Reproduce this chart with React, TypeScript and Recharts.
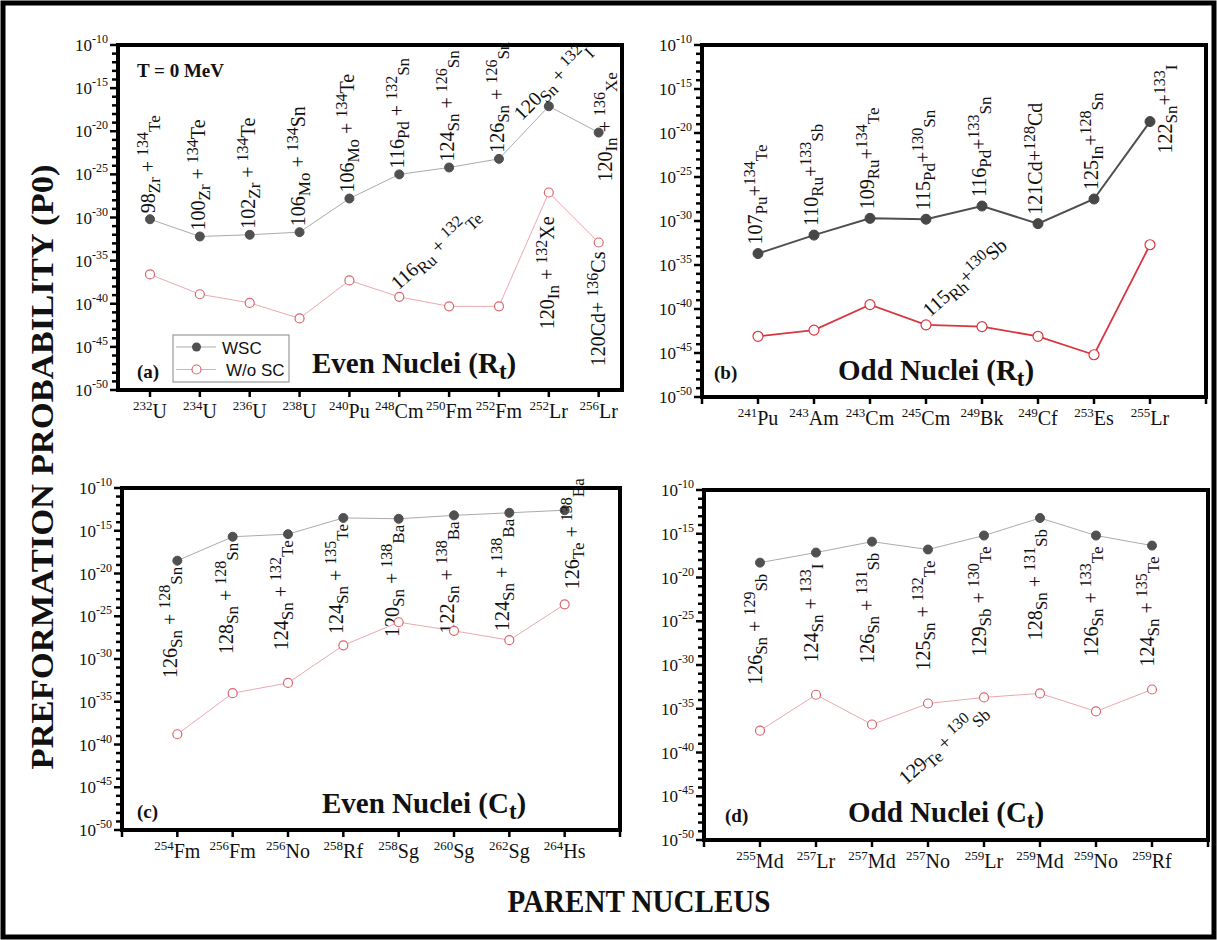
import React from 'react';
import { LineChart, Line, XAxis, YAxis, ReferenceArea } from 'recharts';

const SERIF = '"Liberation Serif", "Times New Roman", serif';
const SANS = '"Liberation Sans", Arial, sans-serif';

// parent nuclei on the x axes (mass number + symbol)
const parentsA = ['232U', '234U', '236U', '238U', '240Pu', '248Cm', '250Fm', '252Fm', '252Lr', '256Lr'];
const parentsB = ['241Pu', '243Am', '243Cm', '245Cm', '249Bk', '249Cf', '253Es', '255Lr'];
const parentsC = ['254Fm', '256Fm', '256No', '258Rf', '258Sg', '260Sg', '262Sg', '264Hs'];
const parentsD = ['255Md', '257Lr', '257Md', '257No', '259Lr', '259Md', '259No', '259Rf'];

// log10 of the preformation probability, with (WSC) and without shell correction
const wscA = [-30.2, -32.2, -32.0, -31.7, -27.8, -25.0, -24.2, -23.2, -17.1, -20.15];
const woA = [-36.6, -38.9, -39.9, -41.7, -37.3, -39.2, -40.3, -40.3, -27.1, -32.9];
const wscB = [-33.7, -31.6, -29.7, -29.8, -28.3, -30.3, -27.5, -18.7];
const woB = [-43.1, -42.4, -39.5, -41.8, -42.0, -43.1, -45.2, -32.7];
const wscC = [-18.5, -15.7, -15.4, -13.5, -13.6, -13.2, -12.9, -12.6];
const woC = [-38.8, -34.0, -32.8, -28.4, -25.7, -26.7, -27.8, -23.6];
const wscD = [-18.3, -17.15, -15.9, -16.8, -15.2, -13.2, -15.2, -16.35];
const woD = [-37.5, -33.4, -36.8, -34.4, -33.7, -33.25, -35.3, -32.8];

// most probable fragment pairs ("_" lowered, "^" raised)
const pairsWscA = ['98_Zr + ^134_Te', '100_Zr + ^134Te', '102_Zr + ^134Te', '106_Mo + ^134Sn', '106_Mo + ^134Te',
  '116_Pd + ^132_Sn', '124_Sn + ^126_Sn', '126_Sn + ^126_Sn', '120_Sn + ^132_I', '120_In + ^136_Xe'];
const pairsWoA = ['', '', '', '', '', '116_Ru + ^132_Te', '', '', '120_In + ^132Xe', '120Cd+ ^136Cs'];
const pairsWscB = ['107_Pu+^134_Te', '110_Ru+^133_Sb', '109_Ru+^134_Te', '115_Pd+^130_Sn', '116_Pd+^133_Sn',
  '121Cd+^128Cd', '125_In+^128_Sn', '122_Sn+^133_I'];
const pairsWoB = ['', '', '', '115_Rh+^130Sb', '', '', '', ''];
const pairsWscC = ['126_Sn + ^128_Sn', '128_Sn + ^128_Sn', '124_Sn + ^132_Te', '124_Sn + ^135_Te', '120_Sn + ^138_Ba',
  '122_Sn + ^138_Ba', '124_Sn + ^138_Ba', '126_Te + ^138_Ba'];
const pairsWoC = ['', '', '', '', '', '', '', ''];
const pairsWscD = ['126_Sn + ^129_Sb', '124_Sn + ^133_I', '126_Sn + ^131_Sb', '125_Sn + ^132_Te', '129_Sb + ^130_Te',
  '128_Sn + ^131_Sb', '126_Sn + ^133_Te', '124_Sn + ^135_Te'];
const pairsWoD = ['', '', '', '129_Te + ^130_Sb', '', '', '', ''];

const yTicks = Array.from({ length: 41 }, (_, k) => -50 + k);
const xTicks = [0, 1, 2, 3, 4, 5, 6, 7, 8, 9];

type Place = { rot: number; anchor: 'start' | 'end'; dx: number; dy: number } | null;
const up = (dx: number, dy: number): Place => ({ rot: -90, anchor: 'start', dx, dy });
const down = (dx: number, dy: number): Place => ({ rot: -90, anchor: 'end', dx, dy });
const diag = (dx: number, dy: number, rot: number): Place => ({ rot, anchor: 'start', dx, dy });

const placeWscA: Place[] = [up(5, -6), up(5, -6), up(5, -6), up(5, -6), up(5, -6), up(5, -6), up(5, -6), up(5, -6),
  diag(-27, 15, -45), up(13, 49)];
const placeWoA: Place[] = [null, null, null, null, null, diag(-1, -6, -42), null, null, down(5, 24), down(6, 9)];
const placeWscB: Place[] = [up(4, -9), up(4, -9), up(4, -9), up(4, -9), up(4, -9), up(4, -9), up(4, -9), up(22, 32)];
const placeWoB: Place[] = [null, null, null, diag(4, -7, -42), null, null, null, null];
const placeWscC: Place[] = [down(0, 6), down(0, 6), down(0, 6), down(0, 6), down(0, 6), down(0, 6), down(0, 6), up(14, 79)];
const placeWoC: Place[] = [null, null, null, null, null, null, null, null];
const placeWscD: Place[] = [down(2, 11), down(2, 11), down(2, 11), down(2, 11), down(2, 11), down(2, 11), down(2, 11), down(2, 11)];
const placeWoD: Place[] = [null, null, null, diag(-22, 82, -41.5), null, null, null, null];

const Formula = ({ text, x, y, rot, anchor }: { text: string; x: number; y: number; rot: number; anchor: string }) => {
  const parts = text.match(/\^\d+|_[A-Za-z]+|[^\^_]+/g) || [];
  let shift = 0;
  const spans = parts.map((p, k) => {
    let size = 20;
    let target = 0;
    let s = p;
    if (p[0] === '^') { size = 16; target = -7; s = p.slice(1); }
    else if (p[0] === '_') { size = 17; target = 5; s = p.slice(1); }
    const dy = target - shift;
    shift = target;
    return <tspan key={k} fontSize={size} dy={dy}>{s}</tspan>;
  });
  return (
    <text transform={`translate(${x},${y}) rotate(${rot})`} textAnchor={anchor} fontFamily={SERIF} fill="#111" style={{ whiteSpace: 'pre' }}>
      {spans}
    </text>
  );
};

const makeDot = (st: any, labels: string[], places: Place[]) => (props: any) => {
  const { cx, cy, index } = props;
  if (cx == null || cy == null) return <g key={`d${index}`} />;
  const label = labels[index];
  const pl = places[index];
  return (
    <g key={`d${index}`}>
      <circle cx={cx} cy={cy} r={st.r} fill={st.fill} stroke={st.stroke} strokeWidth={st.sw} />
      {label && pl && <Formula text={label} x={cx + pl.dx} y={cy + pl.dy} rot={pl.rot} anchor={pl.anchor} />}
    </g>
  );
};

const xTick = (names: string[], first: number) => (props: any) => {
  const { x, y, payload } = props;
  const name = names[payload.value - first];
  const m = name ? name.match(/^(\d+)(\D+)$/) : null;
  return (
    <g>
      <line x1={x} y1={y} x2={x} y2={y + 7} stroke="#000" strokeWidth={2.5} />
      {m && (
        <text x={x} y={y + 28} textAnchor="middle" fontFamily={SERIF} fill="#111">
          <tspan fontSize={13} dy={-8}>{m[1]}</tspan>
          <tspan fontSize={20} dy={8}>{m[2]}</tspan>
        </text>
      )}
    </g>
  );
};

const yTick = (props: any) => {
  const { x, y, payload } = props;
  const v = payload.value;
  const major = v % 5 === 0;
  return (
    <g>
      <line x1={x} x2={x - (major ? 8 : 6)} y1={y} y2={y} stroke="#000" strokeWidth={2.5} />
      {major && (
        <text x={x - 10} y={y + 6} textAnchor="end" fontFamily={SERIF} fill="#111">
          <tspan fontSize={17}>10</tspan>
          <tspan fontSize={12} dy={-8}>{v}</tspan>
        </text>
      )}
    </g>
  );
};

const L = 80, T = 12, R = 12, B = 50;

const panels = [
  { id: 'a', parents: parentsA, wsc: wscA, wo: woA, pWsc: pairsWscA, pWo: pairsWoA, plWsc: placeWscA, plWo: placeWoA,
    x0: 118, x1: 622, y0: 45, y1: 390, domain: [-0.642, 9.468], first: 0, dark: false },
  { id: 'b', parents: parentsB, wsc: wscB, wo: woB, pWsc: pairsWscB, pWo: pairsWoB, plWsc: placeWscB, plWo: placeWoB,
    x0: 702, x1: 1206, y0: 45, y1: 397, domain: [0, 9], first: 1, dark: true },
  { id: 'c', parents: parentsC, wsc: wscC, wo: woC, pWsc: pairsWscC, pWo: pairsWoC, plWsc: placeWscC, plWo: placeWoC,
    x0: 122, x1: 620, y0: 488, y1: 830, domain: [0, 9], first: 1, dark: false },
  { id: 'd', parents: parentsD, wsc: wscD, wo: woD, pWsc: pairsWscD, pWo: pairsWoD, plWsc: placeWscD, plWo: placeWoD,
    x0: 704, x1: 1208, y0: 490, y1: 840, domain: [0, 9], first: 1, dark: false },
];

const Panel = ({ cfg }: { cfg: any }) => {
  const data = cfg.wsc.map((w: number, k: number) => ({ x: k + cfg.first, wsc: w, wo: cfg.wo[k] }));
  const width = cfg.x1 - cfg.x0 + L + R;
  const height = cfg.y1 - cfg.y0 + T + B;
  const wscStyle = cfg.dark
    ? { line: '#4f4f4f', lw: 2, r: 5, fill: '#474747', stroke: '#474747', sw: 1 }
    : { line: '#ababab', lw: 1, r: 4.5, fill: '#505050', stroke: '#505050', sw: 1 };
  const woStyle = cfg.dark
    ? { line: '#d9363e', lw: 1.8, r: 5, fill: '#fff', stroke: '#d9363e', sw: 1.2 }
    : { line: '#eba9ad', lw: 1, r: 4.5, fill: '#fff', stroke: '#d9666e', sw: 1.2 };
  return (
    <div style={{ position: 'absolute', left: cfg.x0 - L, top: cfg.y0 - T }}>
      <LineChart width={width} height={height} data={data} margin={{ top: T, right: R, bottom: 0, left: 0 }}>
        <XAxis type="number" dataKey="x" domain={cfg.domain} ticks={xTicks} interval={0} height={B}
          tickSize={0} tickMargin={0} axisLine={false} tickLine={false} tick={xTick(cfg.parents, cfg.first)} />
        <YAxis type="number" domain={[-50, -10]} ticks={yTicks} interval={0} width={L}
          tickSize={0} tickMargin={0} axisLine={false} tickLine={false} tick={yTick} />
        <ReferenceArea x1={cfg.domain[0]} x2={cfg.domain[1]} y1={-50} y2={-10} fill="none" fillOpacity={0}
          stroke="#000" strokeWidth={4} ifOverflow="visible" />
        <Line type="linear" dataKey="wsc" stroke={wscStyle.line} strokeWidth={wscStyle.lw}
          dot={makeDot(wscStyle, cfg.pWsc, cfg.plWsc)} activeDot={false} isAnimationActive={false} />
        <Line type="linear" dataKey="wo" stroke={woStyle.line} strokeWidth={woStyle.lw}
          dot={makeDot(woStyle, cfg.pWo, cfg.plWo)} activeDot={false} isAnimationActive={false} />
      </LineChart>
    </div>
  );
};

const PanelTitle = ({ x, y, text, sub }: { x: number; y: number; text: string; sub: string }) => (
  <text x={x} y={y} fontFamily={SERIF} fontWeight="bold" fontSize={29} fill="#111">
    {text}
    <tspan fontSize={23} dy={6}>{sub}</tspan>
    <tspan dy={-6}>)</tspan>
  </text>
);

const Tag = ({ x, y, text }: { x: number; y: number; text: string }) => (
  <text x={x} y={y} fontFamily={SERIF} fontWeight="bold" fontSize={19} fill="#111">{text}</text>
);

const App: React.FC = () => {
  return (
    <div style={{ position: 'absolute', left: 0, top: 0, width: 1217, height: 940, background: '#fff' }}>
      {panels.map(p => <Panel key={p.id} cfg={p} />)}
      <svg width={1217} height={940} style={{ position: 'absolute', left: 0, top: 0, pointerEvents: 'none' }}>
        <rect x={3} y={3} width={1211} height={934} fill="none" stroke="#000" strokeWidth={5} />
        <text transform="translate(53,467) rotate(-90)" textAnchor="middle" fontFamily={SERIF} fontWeight="bold"
          fontSize={31} fill="#111" textLength={605} lengthAdjust="spacingAndGlyphs">
          PREFORMATION PROBABILITY (P0)
        </text>
        <text x={639} y={912} textAnchor="middle" fontFamily={SERIF} fontWeight="bold" fontSize={31} fill="#111"
          textLength={263} lengthAdjust="spacingAndGlyphs">
          PARENT NUCLEUS
        </text>

        <Tag x={137} y={77} text="T = 0 MeV" />
        <Tag x={137} y={378} text="(a)" />
        <PanelTitle x={312} y={373} text="Even Nuclei (R" sub="t" />
        <Tag x={714} y={379} text="(b)" />
        <PanelTitle x={838} y={380} text="Odd Nuclei (R" sub="t" />
        <Tag x={137} y={818} text="(c)" />
        <PanelTitle x={322} y={813} text="Even Nuclei (C" sub="t" />
        <Tag x={725} y={822} text="(d)" />
        <PanelTitle x={848} y={822} text="Odd Nuclei (C" sub="t" />

        <rect x={173} y={335} width={116} height={47} fill="#fff" stroke="#9a9a9a" strokeWidth={1.2} />
        <line x1={176} x2={216} y1={347} y2={347} stroke="#ababab" strokeWidth={1} />
        <circle cx={196.5} cy={347} r={4.5} fill="#505050" />
        <text x={222} y={354} fontFamily={SANS} fontSize={17} fill="#111">WSC</text>
        <line x1={176} x2={216} y1={369.5} y2={369.5} stroke="#eba9ad" strokeWidth={1} />
        <circle cx={196.5} cy={369.5} r={4.5} fill="#fff" stroke="#d9666e" strokeWidth={1.2} />
        <text x={226} y={376} fontFamily={SANS} fontSize={17} fill="#111">W/o SC</text>
      </svg>
    </div>
  );
};

export default App;
